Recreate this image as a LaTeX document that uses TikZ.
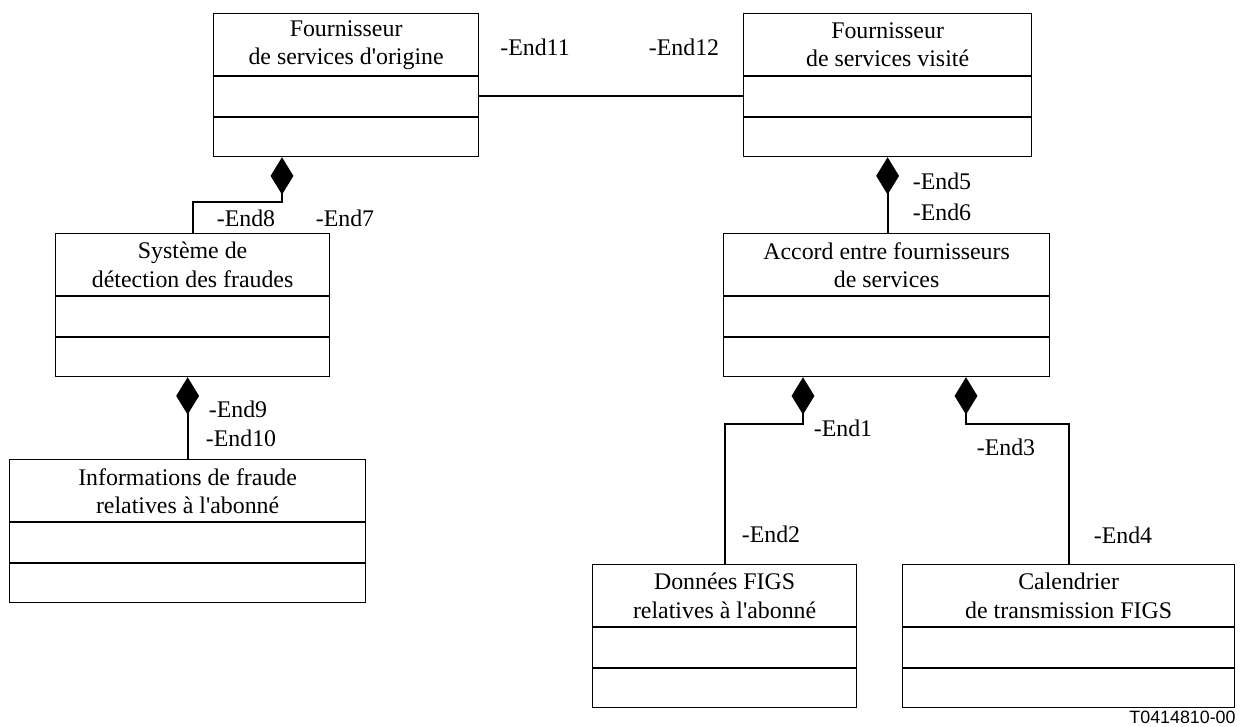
\documentclass[tikz,border=0pt]{standalone}
\usepackage{fontspec}
\setmainfont{Liberation Serif}[Ligatures=TeXOff]
\newfontfamily\tagfont{Liberation Sans}
\usetikzlibrary{arrows.meta,positioning,calc}
\newcommand{\px}{0.01693cm}

\begin{document}
\begin{tikzpicture}[
		x=\px, y=-\px,
		font=\fontsize{11.5}{13.6}\selectfont,
		classbox/.style={
			draw,
			line width=0.6pt,
			anchor=north west,
			minimum height=143*\px,
			inner sep=0pt
		},
		classtitle/.style={
			align=center,
			minimum height=63*\px,
			inner sep=0pt
		},
		divider/.style={line width=1pt},
		assoc/.style={line width=1pt},
		comp/.style={line width=1pt, {Diamond[length=18pt,width=11pt]}-},
		endlabel/.style={inner sep=1pt}
		]
		\useasboundingbox (0,0) rectangle (1240,727);
		
		% classes
		\node[classbox, minimum width=265*\px] (origine) at (213,13) {};
		\node[classtitle, below=0pt of origine.north] (origine-t)
		{Fournisseur\\ de services d'origine};
		
		\node[classbox, minimum width=288*\px] (visite) at (743,13) {};
		\node[classtitle, below=0pt of visite.north] (visite-t)
		{Fournisseur\\ de services visité};
		
		\node[classbox, minimum width=274*\px] (systeme) at (55,233) {};
		\node[classtitle, below=0pt of systeme.north] (systeme-t)
		{Système de\\ détection des fraudes};
		
		\node[classbox, minimum width=326*\px] (accord) at (723,233) {};
		\node[classtitle, below=0pt of accord.north] (accord-t)
		{Accord entre fournisseurs\\ de services};
		
		\node[classbox, minimum width=356*\px] (infos) at (9,459) {};
		\node[classtitle, below=0pt of infos.north] (infos-t)
		{Informations de fraude\\ relatives à l'abonné};
		
		\node[classbox, minimum width=264*\px] (donnees) at (592,564) {};
		\node[classtitle, below=0pt of donnees.north] (donnees-t)
		{Données FIGS\\ relatives à l'abonné};
		
		\node[classbox, minimum width=332*\px] (calendrier) at (902,564) {};
		\node[classtitle, below=0pt of calendrier.north] (calendrier-t)
		{Calendrier\\ de transmission FIGS};
		
		\foreach \b in {origine,visite,systeme,accord,infos,donnees,calendrier}{
			\draw[divider] ($(\b.north west)+(0,63)$) -- ($(\b.north east)+(0,63)$);
			\draw[divider] ($(\b.north west)+(0,104)$) -- ($(\b.north east)+(0,104)$);
		}
		
		% bends
		\coordinate (k0) at (0,96);
		\coordinate (k1) at (282,202);
		\coordinate (k2) at (803,424);
		\coordinate (k3) at (966,424);
		
		\draw[assoc] (origine.east |- k0) -- (visite.west |- k0);
		\draw[comp] (origine.south -| k1) -- (k1) -| (systeme.north);
		\draw[comp] (visite.south) -- (visite.south |- accord.north);
		\draw[comp] (systeme.south -| infos.north) -- (infos.north);
		\draw[comp] (accord.south -| k2) -- (k2) -| (donnees.north);
		\draw[comp] (accord.south -| k3) -- (k3) -| (calendrier.north);
		
		% role names
		\node[endlabel] (end11) at (535,47) {-End11};
		\node[endlabel] (end12) at (684,47) {-End12};
		\node[endlabel] (end8) at (246,218) {-End8};
		\node[endlabel] (end7) at (345,218) {-End7};
		\node[endlabel] (end5) at (942,181) {-End5};
		\node[endlabel] (end6) at (942,212) {-End6};
		\node[endlabel] (end9) at (238,409) {-End9};
		\node[endlabel] (end10) at (241,438) {-End10};
		\node[endlabel] (end1) at (843,428) {-End1};
		\node[endlabel] (end3) at (1006,447) {-End3};
		\node[endlabel] (end2) at (771,534) {-End2};
		\node[endlabel] (end4) at (1123,535) {-End4};
		
		\node[anchor=east, inner sep=0pt, font=\tagfont\fontsize{8.6}{9}\selectfont]
		(tag) at (1236,717) {T0414810-00};
		
	\end{tikzpicture}
\end{document}
